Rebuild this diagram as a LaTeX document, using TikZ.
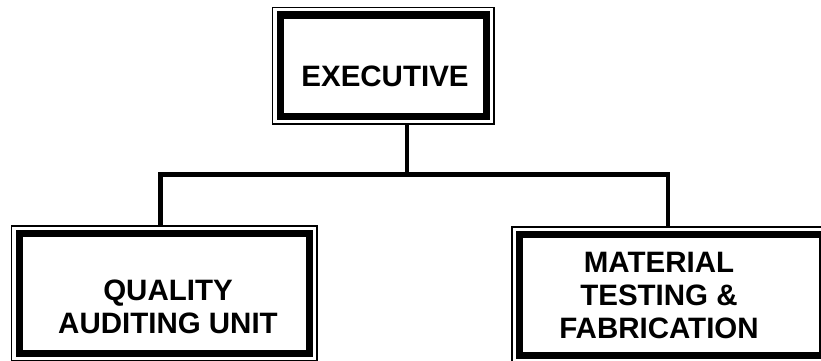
\documentclass[tikz,border=0pt]{standalone}
\usepackage{fontspec}
\setmainfont{Liberation Sans}
\tikzset{
  frame/.style={draw, line width=1.3pt, inner sep=0pt,
    path picture={\draw[line width=7.3pt]
      ([xshift=7.6pt,yshift=-7.6pt]path picture bounding box.north west) rectangle
      ([xshift=-7.6pt,yshift=7.6pt]path picture bounding box.south east);}},
  boxtext/.style={font=\fontsize{29.5}{33}\selectfont\bfseries, align=center, inner sep=0pt},
  link/.style={line width=4.3pt, line join=miter}
}
\begin{document}
\begin{tikzpicture}[x=1pt,y=-1pt]
% Page area
\useasboundingbox (0,0) rectangle (821,360);
\clip (0,0) rectangle (821,360);

% Top box - Executive
\node[frame, minimum width=221.3pt, minimum height=116.7pt] (exec) at (383.3,65.7) {};
\node[boxtext] (execlbl) at (385,76.5) {EXECUTIVE};

% Bottom left box - Quality auditing unit
\node[frame, minimum width=305.5pt, minimum height=135pt] (qau) at (164.3,293.5) {};
\node[boxtext] (qaulbl) at (168,306.5) {QUALITY\\AUDITING UNIT};

% Bottom right box - Material testing & fabrication
\node[frame, minimum width=318pt, minimum height=136pt] (mtf) at (671,295) {};
\node[boxtext] (mtflbl) at (659,295) {MATERIAL\\TESTING \&\\FABRICATION};

% Connecting lines
\coordinate (bus) at (407,174.5);
\coordinate (busl) at (160.5,174.5);
\coordinate (busr) at (668,174.5);
\draw[link] (exec.south -| bus) -- (bus);
\draw[link] (qau.north -| busl) -- (busl) -- (busr) -- (mtf.north -| busr);
\end{tikzpicture}
\end{document}
